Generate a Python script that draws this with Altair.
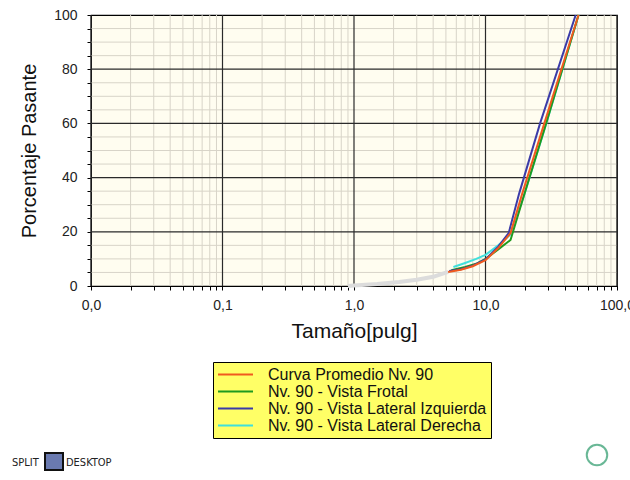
import altair as alt
import pandas as pd

# ---------------- data ----------------
series_names = [
    "Curva Promedio Nv. 90",
    "Nv. 90 - Vista Frotal",
    "Nv. 90 - Vista Lateral Izquierda",
    "Nv. 90 - Vista Lateral Derecha",
]
series_colors = ["#f05a1e", "#1f9a1f", "#3b3ba8", "#3fe0dc"]

promedio_x = [5.2, 6.5, 8.0, 10.0, 12.5, 15.5, 19.0, 28.0, 51.0]
promedio_y = [5.2, 6.0, 7.3, 9.5, 14.0, 19.5, 34.0, 60.0, 100.0]

frontal_x = [5.5, 7.0, 8.5, 10.0, 12.5, 15.5, 19.5, 28.5, 51.0]
frontal_y = [5.8, 7.0, 8.2, 10.0, 13.5, 17.0, 33.0, 59.0, 100.0]

izquierda_x = [5.3, 6.5, 8.0, 10.0, 12.5, 15.0, 18.0, 26.0, 48.5]
izquierda_y = [5.5, 6.2, 7.5, 9.8, 14.5, 19.5, 34.0, 60.0, 100.0]

derecha_x = [5.7, 7.0, 8.5, 10.0, 12.5, 15.5, 19.5, 29.0, 51.0]
derecha_y = [7.0, 8.5, 10.0, 11.5, 15.0, 19.0, 33.0, 60.0, 100.0]

# light grey extension of the curve towards fine sizes
ext_x = [0.9, 1.0, 1.5, 2.2, 3.0, 4.0, 5.2]
ext_y = [0.0, 0.2, 0.7, 1.5, 2.3, 3.4, 5.2]

x_major = [0.01, 0.1, 1.0, 10.0, 100.0]
x_minor = [m * d for d in [0.01, 0.1, 1.0, 10.0] for m in range(2, 10)]
y_major = [20, 40, 60, 80]
y_minor = [v for v in range(5, 100, 5) if v % 20 != 0]
y_ticks = list(range(0, 105, 5))
x_ticks = sorted(x_major + x_minor)

# ---------------- tables ----------------
rows = []
# draw order: Derecha, Frotal, Izquierda, Promedio (red on top)
for name, xs, ys in [
    (series_names[3], derecha_x, derecha_y),
    (series_names[1], frontal_x, frontal_y),
    (series_names[2], izquierda_x, izquierda_y),
    (series_names[0], promedio_x, promedio_y),
]:
    for i, (a, b) in enumerate(zip(xs, ys)):
        rows.append({"serie": name, "x": a, "y": b, "i": i})
df = pd.DataFrame(rows)
ext_df = pd.DataFrame({"x": ext_x, "y": ext_y})

FONT = "Liberation Sans"
xscale = alt.Scale(type="log", domain=[0.01, 100], nice=False)
yscale = alt.Scale(domain=[0, 100], nice=False)

xaxis = alt.Axis(
    values=x_ticks,
    labelExpr="abs(log(datum.value)/LN10 - round(log(datum.value)/LN10)) < 0.000001 ? replace(format(datum.value, '.1f'), '.', ',') : ''",
    labelOverlap=False,
    labelFlush=False,
    grid=False,
    domainColor="#000",
    tickColor="#000",
    tickSize=4,
    labelPadding=8,
    labelFont=FONT,
    labelFontSize=14,
    labelColor="#222",
    titleFont=FONT,
    titleFontSize=21,
    titleFontWeight="normal",
    titleColor="#111",
    titlePadding=8,
)
yaxis = alt.Axis(
    values=y_ticks,
    labelExpr="datum.value % 20 == 0 ? datum.value : ''",
    labelOverlap=False,
    grid=False,
    domainColor="#000",
    tickColor="#000",
    tickSize=4,
    labelPadding=10,
    labelFont=FONT,
    labelFontSize=14,
    labelColor="#222",
    titleFont=FONT,
    titleFontSize=20,
    titleFontWeight="normal",
    titleColor="#111",
    titlePadding=14,
)
XT = "Tamaño[pulg]"
YT = "Porcentaje Pasante"

minor_x = alt.Chart(pd.DataFrame({"x": x_minor})).mark_rule(
    color="#d8d4c8", strokeWidth=1
).encode(x=alt.X("x:Q", scale=xscale, axis=xaxis, title=XT))
minor_y = alt.Chart(pd.DataFrame({"y": y_minor})).mark_rule(
    color="#d8d4c8", strokeWidth=1
).encode(y=alt.Y("y:Q", scale=yscale, axis=yaxis, title=YT))
major_x = alt.Chart(pd.DataFrame({"x": x_major})).mark_rule(
    color="#2a2a2a", strokeWidth=1.2
).encode(x=alt.X("x:Q", scale=xscale, axis=xaxis, title=XT))
major_y = alt.Chart(pd.DataFrame({"y": y_major})).mark_rule(
    color="#2a2a2a", strokeWidth=1.2
).encode(y=alt.Y("y:Q", scale=yscale, axis=yaxis, title=YT))

ext = alt.Chart(ext_df).mark_line(color="#dcdcdc", strokeWidth=4).encode(
    x=alt.X("x:Q", scale=xscale, axis=xaxis, title=XT),
    y=alt.Y("y:Q", scale=yscale, axis=yaxis, title=YT),
)

lines = alt.Chart(df).mark_line(strokeWidth=2).encode(
    x=alt.X("x:Q", scale=xscale, axis=xaxis, title=XT),
    y=alt.Y("y:Q", scale=yscale, axis=yaxis, title=YT),
    color=alt.Color(
        "serie:N",
        scale=alt.Scale(domain=series_names, range=series_colors),
        legend=alt.Legend(
            title=None,
            orient="none",
            legendX=122,
            legendY=347,
            fillColor="#ffff66",
            strokeColor="#000",
            padding=4,
            symbolType="stroke",
            symbolSize=1225,
            symbolStrokeWidth=2,
            labelFont=FONT,
            labelFontSize=16,
            labelColor="#111",
            labelOffset=14,
            labelLimit=400,
            clipHeight=17,
            rowPadding=0,
        ),
    ),
    order=alt.Order("i:Q"),
)

logo_split = alt.Chart(pd.DataFrame({"t": ["SPLIT"]})).mark_text(
    font="DejaVu Sans Condensed", fontSize=11, align="left", color="#222"
).encode(text="t:N", x=alt.value(-79), y=alt.value(448))
logo_desk = alt.Chart(pd.DataFrame({"t": ["DESKTOP"]})).mark_text(
    font="DejaVu Sans Condensed", fontSize=11, align="left", color="#222"
).encode(text="t:N", x=alt.value(-25), y=alt.value(448))
logo_icon = alt.Chart(pd.DataFrame({"t": [1]})).mark_rect(
    color="#6a7ab0", stroke="#111", strokeWidth=2
).encode(x=alt.value(-46), x2=alt.value(-28), y=alt.value(438), y2=alt.value(455))
logo_circle = alt.Chart(pd.DataFrame({"t": [1]})).mark_point(
    shape="circle", size=420, color="#2a9a6a", strokeWidth=2
).encode(x=alt.value(506), y=alt.value(440))

chart = (
    alt.layer(minor_x, minor_y, major_x, major_y, ext, lines,
              logo_split, logo_desk, logo_icon, logo_circle)
    .properties(
        width=526,
        height=271,
        autosize=alt.AutoSizeParams(type="none"),
        padding={"left": 91, "top": 15, "right": 13, "bottom": 194},
        background="#ffffff",
    )
    .configure_view(fill="#fffdf0", stroke="#000", strokeWidth=1.2)
)

chart.save("out.html", embed_options={"renderer": "svg", "actions": False})
